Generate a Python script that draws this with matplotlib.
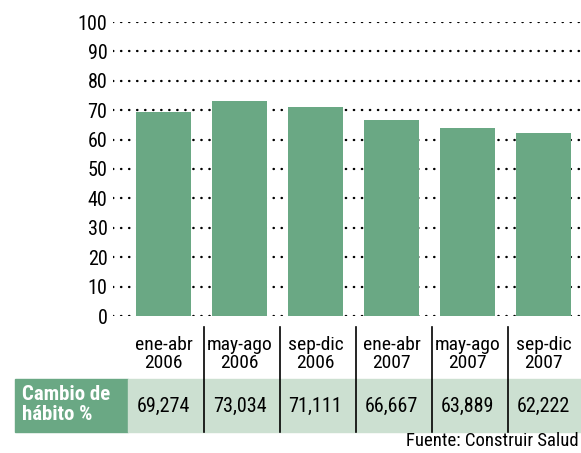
import matplotlib
matplotlib.use('Agg')
import matplotlib.pyplot as plt
import matplotlib.transforms as mtransforms
from matplotlib import font_manager

# data
periods = ['ene-abr', 'may-ago', 'sep-dic', 'ene-abr', 'may-ago', 'sep-dic']
years = ['2006', '2006', '2006', '2007', '2007', '2007']
values = [69.274, 73.034, 71.111, 66.667, 63.889, 62.222]
value_labels = ['69,274', '73,034', '71,111', '66,667', '63,889', '62,222']
yticks = [0, 10, 20, 30, 40, 50, 60, 70, 80, 90, 100]

GREEN = '#6aa884'
LIGHT = '#cce0d1'

# pick a narrow face if there is one
names = set(f.name for f in font_manager.fontManager.ttflist)
fam = ['DejaVu Sans']
for cand in ['Roboto Condensed', 'Liberation Sans Narrow', 'DejaVu Sans Condensed']:
    if cand in names:
        fam = [cand, 'DejaVu Sans']
        break
plt.rcParams['font.family'] = fam

W, H = 581, 453
fig = plt.figure(figsize=(W/100., H/100.), dpi=100)

def fy(py):
    # pixel row -> figure fraction
    return 1 - py/float(H)

# table background first, behind everything
fig.patches.append(plt.Rectangle((15./W, fy(432)), (128-15.)/W, (432-379)/float(H),
                                 transform=fig.transFigure, color=GREEN, zorder=-5))
fig.patches.append(plt.Rectangle((128./W, fy(432)), (581-128.)/W, (432-379)/float(H),
                                 transform=fig.transFigure, color=LIGHT, zorder=-5))

ax = fig.add_axes([113./W, fy(316), 468./W, (316-22)/float(H)])
ax.patch.set_alpha(0)
x = list(range(len(values)))
ax.set_xlim(-0.664, 5.493)
ax.set_ylim(0, 100)

for t in yticks:
    ax.plot([-0.664, 5.493], [t, t], color='black', lw=1.7,
            linestyle=(0, (0.15, 3.25)), dash_capstyle='round', zorder=1)
ax.bar(x, values, width=0.724, color=GREEN, zorder=2)

ax.set_yticks(yticks)
ax.set_yticklabels([str(t) for t in yticks], fontsize=14.5)
ax.tick_params(axis='y', length=0, pad=4)
ax.set_xticks([])
for s in ax.spines.values():
    s.set_visible(False)

# table under the bars
tr = mtransforms.blended_transform_factory(ax.transData, fig.transFigure)
px = 468./6.157  # pixels per category unit

for i in x:
    ax.text(i, fy(345), periods[i], transform=tr, ha='center', va='center', fontsize=14)
    ax.text(i, fy(363), years[i], transform=tr, ha='center', va='center', fontsize=14)
    ax.text(i, fy(406), value_labels[i], transform=tr, ha='center', va='center', fontsize=14.5)
    if i < len(values) - 1:
        sx = i + 40.5/px
        ax.plot([sx, sx], [fy(327), fy(432)], transform=tr, color='black',
                lw=1.2, clip_on=False)

fig.text(22./W, fy(395), 'Cambio de', color='white', fontweight='bold',
         fontsize=15, ha='left', va='center')
fig.text(22./W, fy(415), 'hábito %', color='white', fontweight='bold',
         fontsize=15, ha='left', va='center')

fig.text(579./W, fy(441), 'Fuente: Construir Salud', fontsize=13.5,
         ha='right', va='center')

fig.savefig('out.png', dpi=100)
